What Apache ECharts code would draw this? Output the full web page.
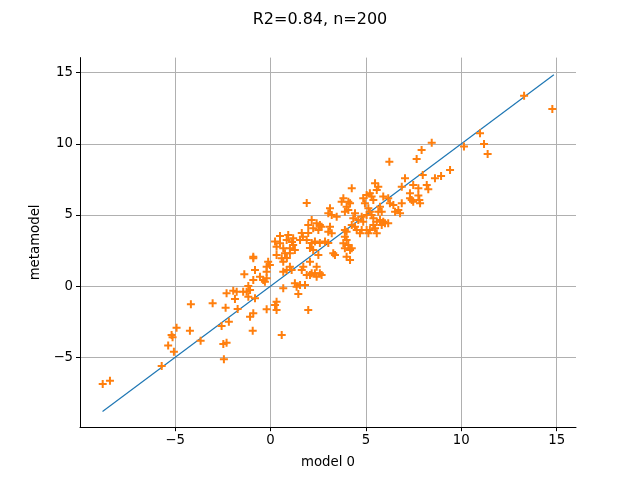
<!DOCTYPE html>
<html>
<head>
<meta charset="utf-8">
<script src="https://cdn.jsdelivr.net/npm/echarts@6/dist/echarts.min.js"></script>
<style>html,body{margin:0;padding:0;background:#fff}#c{width:640px;height:480px}</style>
</head>
<body>
<div id="c"></div>
<script>
const titleText = "R2=0.84, n=200";
const xName = "model 0";
const yName = "metamodel";
const xTicks = [-5, 0, 5, 10, 15];
const yTicks = [-5, 0, 5, 10, 15];

// model 0 (x) values
const model0 = [
-8.79,-8.41,-5.70,-5.36,-5.18,-5.13,-5.06,-4.92,-4.22,-4.17,-3.66,-3.03,-2.56,-2.47,-2.30,-2.44,-2.35,-2.18,-2.30,-1.95,
-1.77,-1.43,-1.25,-1.86,-1.72,-1.37,-1.16,-1.07,-1.07,-0.90,-0.93,-0.90,-0.90,-0.81,-0.90,-0.81,-1.16,
-0.55,-0.38,-0.20,-0.29,-0.20,-0.12,-0.03,-0.20,0.32,0.24,0.32,-0.20,0.59,0.67,1.28,1.55,1.81,1.37,1.46,0.67,0.85,1.02,0.67,1.11,
0.93,0.85,0.50,0.32,0.67,1.02,1.19,1.28,0.76,0.32,1.02,0.59,0.24,1.19,0.86,1.13,0.50,
1.90,3.12,3.03,3.21,3.47,2.16,2.42,2.59,1.98,2.24,2.51,2.68,3.12,3.03,3.21,
1.64,1.70,1.90,1.98,1.55,2.16,2.33,2.59,2.86,3.03,2.07,2.24,2.51,3.29,3.38,
1.72,1.64,2.42,2.33,2.59,2.16,2.07,2.68,2.42,1.90,1.98,2.07,
7.05,6.88,7.48,7.75,7.31,5.48,5.65,5.57,4.26,5.21,5.30,5.04,4.86,4.95,5.39,
3.82,3.73,4.08,4.17,3.99,4.08,3.90,5.91,6.17,6.26,6.44,6.53,6.88,6.79,6.70,5.74,5.83,5.65,5.13,5.21,5.04,
4.43,4.34,4.60,4.78,4.86,5.30,5.39,5.57,5.74,5.91,6.00,5.83,6.17,5.39,5.48,5.57,
4.26,4.43,4.52,4.78,4.69,5.04,5.13,5.21,3.90,3.99,3.90,3.99,3.82,4.08,4.26,3.90,4.17,3.99,4.17,
8.45,7.92,7.66,10.14,9.41,7.98,8.62,8.94,8.19,8.27,7.31,7.40,7.48,7.80,7.84,7.75,
13.29,14.77,10.98,11.19,11.38,6.23
];
// metamodel (y) values
const metamodel = [
-6.87,-6.64,-5.60,-4.17,-3.43,-3.59,-4.60,-2.91,-3.13,-1.27,-3.83,-1.20,-2.80,-4.06,-3.97,-5.13,-1.51,-2.49,-0.50,-0.32,
-0.39,-0.39,-0.39,-0.90,-1.60,0.84,0.01,-0.27,-2.14,-1.90,-3.13,2.07,1.96,1.14,0.44,-0.85,-0.74,
0.67,0.44,0.55,0.32,1.02,1.72,1.49,1.37,-1.09,-1.32,-1.67,-1.62,-3.43,-0.15,0.20,0.08,0.08,-0.04,-0.55,1.02,1.14,1.37,1.72,1.14,
3.60,3.24,3.01,2.77,2.66,2.66,2.89,2.54,2.31,2.19,2.31,1.96,3.13,3.36,1.98,3.10,3.53,
5.84,5.47,5.12,5.00,4.88,4.65,4.42,4.30,4.30,4.07,3.95,4.18,4.18,3.83,3.71,
3.74,3.48,3.24,3.74,3.24,3.03,3.13,3.03,3.13,3.03,2.68,2.54,2.19,2.31,2.19,
1.37,1.14,1.37,0.91,0.91,0.91,0.79,0.79,0.67,0.79,-1.67,1.72,
7.58,6.99,7.11,6.88,6.52,7.23,6.99,6.76,6.88,6.52,6.29,6.40,6.17,5.82,6.05,
6.17,5.93,5.93,5.82,5.58,5.35,5.23,6.29,6.17,5.82,5.70,5.23,5.82,5.12,5.35,5.58,5.23,5.23,5.47,5.23,5.00,
5.12,4.77,4.65,4.88,4.53,5.00,4.77,4.53,4.65,4.53,4.42,4.30,4.42,4.30,4.07,3.71,
4.30,4.18,3.95,3.95,3.71,3.95,3.71,3.95,3.95,3.83,3.48,3.24,3.01,2.89,2.66,2.66,2.54,2.07,1.84,
10.08,9.56,8.93,9.80,8.16,7.81,7.58,7.74,7.11,6.80,6.17,6.05,5.93,6.05,5.82,6.36,
13.38,12.44,10.74,9.99,9.28,8.74
];
// reference line y = x
const lineX = [-8.8, 14.85];
const lineY = [-8.8, 14.85];

const points = model0.map((x, i) => [x, metamodel[i]]);
const linePts = lineX.map((x, i) => [x, lineY[i]]);

const fmt = v => String(v).replace('-', '\u2212');
const font = 'DejaVu Sans';
const plus = 'path://M3,0H5V3H8V5H5V8H3V5H0V3H3Z';

const chart = echarts.init(document.getElementById('c'), null, {renderer: 'canvas'});
chart.setOption({
  animation: false,
  backgroundColor: '#ffffff',
  title: {
    text: titleText, left: 'center', top: 7,
    textStyle: {fontFamily: font, fontSize: 16, fontWeight: 'normal', color: '#000'}
  },
  grid: {left: 80, right: 64, top: 57.6, bottom: 52.8, containLabel: false},
  xAxis: {
    type: 'value', min: -9.98, max: 16.01,
    name: xName, nameLocation: 'middle', nameGap: 29,
    nameTextStyle: {fontFamily: font, fontSize: 13.3, color: '#000'},
    axisLine: {show: true, onZero: false, lineStyle: {color: '#000', width: 1}},
    axisTick: {show: true, length: 4, customValues: xTicks, lineStyle: {color: '#000', width: 1}},
    axisLabel: {customValues: xTicks, margin: 7, fontFamily: font, fontSize: 13.3, color: '#000', formatter: fmt},
    splitLine: {show: true, lineStyle: {color: '#b0b0b0', width: 1}}
  },
  yAxis: {
    type: 'value', min: -9.9, max: 16.05,
    name: yName, nameLocation: 'middle', nameGap: 33, nameRotate: 90,
    nameTextStyle: {fontFamily: font, fontSize: 13.3, color: '#000'},
    axisLine: {show: true, onZero: false, lineStyle: {color: '#000', width: 1}},
    axisTick: {show: true, length: 4, customValues: yTicks, lineStyle: {color: '#000', width: 1}},
    axisLabel: {customValues: yTicks, margin: 7, fontFamily: font, fontSize: 13.3, color: '#000', formatter: fmt},
    splitLine: {show: true, lineStyle: {color: '#b0b0b0', width: 1}}
  },
  series: [
    {
      type: 'line', data: linePts, showSymbol: false, z: 2,
      lineStyle: {color: '#1f77b4', width: 1.2}, itemStyle: {color: '#1f77b4'}
    },
    {
      type: 'scatter', data: points, symbol: plus, symbolSize: 8, z: 3,
      itemStyle: {color: '#ff7f0e', opacity: 1}
    }
  ]
});
</script>
</body>
</html>
